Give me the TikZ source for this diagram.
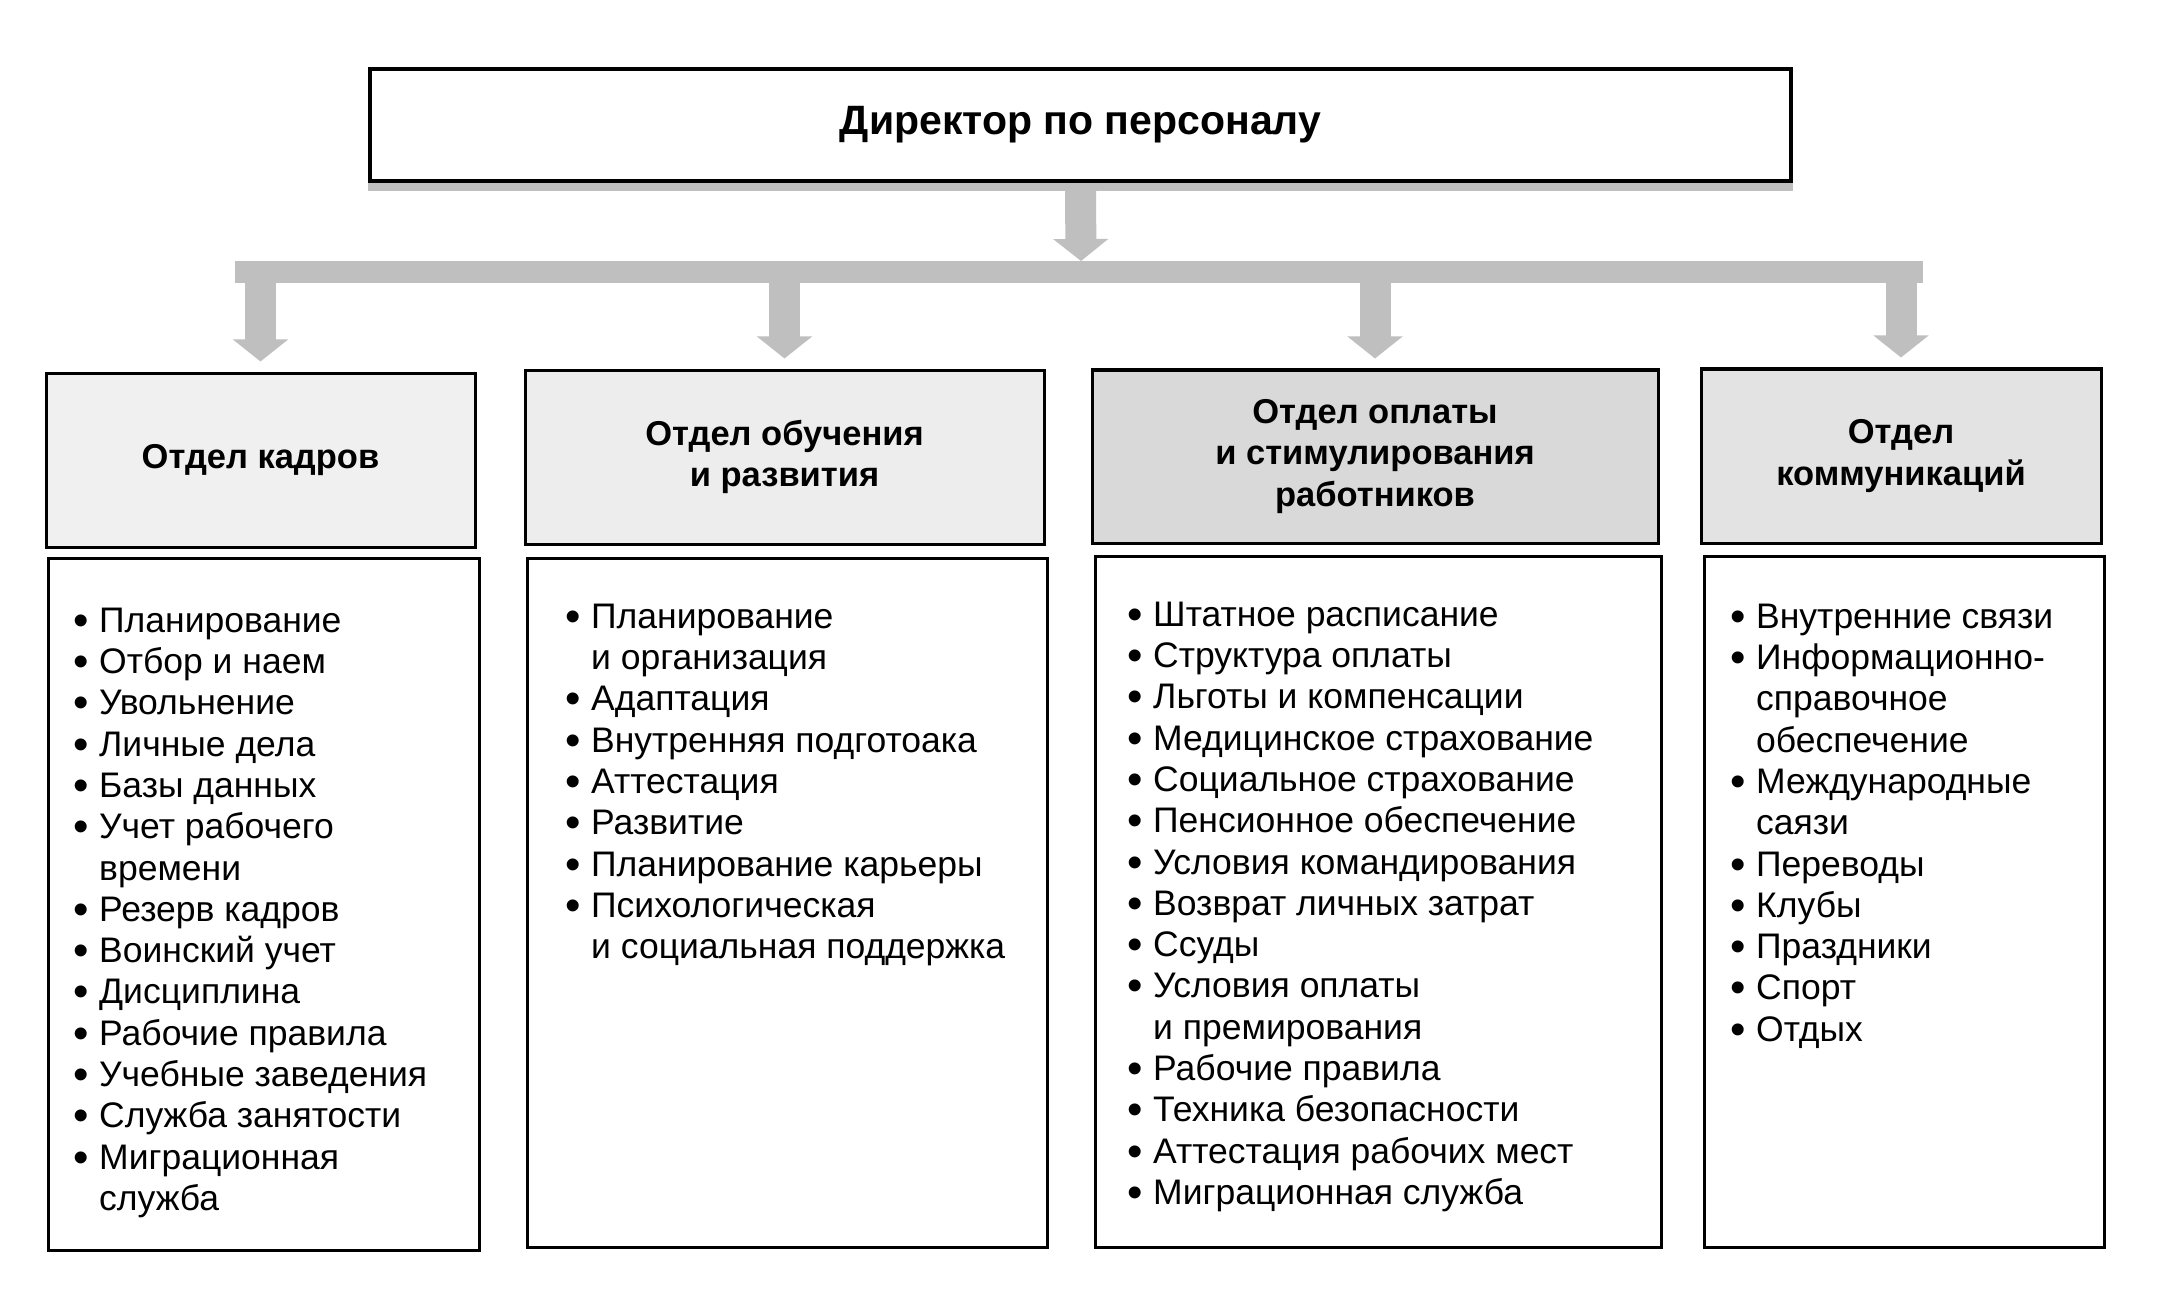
\documentclass[tikz,border=0pt]{standalone}
\usepackage{fontspec}
\setmainfont{Liberation Sans}
\usetikzlibrary{arrows.meta}
\newcommand\bi[1]{\makebox[26pt][l]{\fontsize{44}{0}\selectfont\raisebox{-3pt}{•}}#1}
\newcommand\ct[1]{\hspace*{26pt}#1}
\begin{document}
\begin{tikzpicture}[x=1pt,y=-1pt,
  box/.style={draw=black, line width=3pt, inner sep=0pt},
  head/.style={box, align=center, font=\fontsize{34.5}{41.4}\selectfont\bfseries},
  items/.style={anchor=north west, inner sep=0pt, align=left, font=\fontsize{35.5}{41.3}\selectfont},
  garrow/.style={draw=gray!50, line width=31pt, -{Triangle[width=54pt,length=22pt]}},
  gbar/.style={draw=gray!50, line width=22pt}]
\fill[white] (0,0) rectangle (2165,1313);
\useasboundingbox (0,0) rectangle (2165,1313);
% director
\node[box, line width=3.5pt, minimum width=1421pt, minimum height=112pt,
      font=\fontsize{41}{46}\selectfont\bfseries] (top) at (1080.5,125) {Директор по персоналу};
\fill[gray!50] (top.south west) rectangle ([yshift=-8pt]top.south east);
% bar
\coordinate (bl) at (235,272);
\coordinate (br) at (1923,272);
\coordinate (bj) at (1081,261);
\draw[garrow] ([yshift=-8pt]top.south) -- (bj);
\draw[gbar] (bl) -- (br);
% headers
\node[head, fill=gray!12, minimum width=429pt, minimum height=174pt] (h1) at (260.5,460) {Отдел кадров};
\node[head, fill=gray!14, minimum width=519pt, minimum height=174pt] (h2) at (784.5,457) {Отдел обучения\\и развития};
\node[head, fill=gray!30, minimum width=566pt, minimum height=173pt] (h3) at (1375,456.5) {Отдел оплаты\\и стимулирования\\работников};
\node[head, fill=gray!22, minimum width=400pt, minimum height=174pt] (h4) at (1901,456) {Отдел\\коммуникаций};
\foreach \h in {h1,h2,h3,h4}
  \draw[garrow, shorten >=10pt] (\h.north |- bl) -- (\h.north);
% content boxes
\node[box, minimum width=431pt, minimum height=692pt] (c1) at (263.5,904) {};
\node[box, minimum width=520pt, minimum height=689pt] (c2) at (787,902.5) {};
\node[box, minimum width=566pt, minimum height=691pt] (c3) at (1378,901.5) {};
\node[box, minimum width=400pt, minimum height=691pt] (c4) at (1904,901.5) {};
% items
\node[items] (t1) at (73,602) {\rule{0pt}{30pt}\bi{Планирование}\\
\bi{Отбор и наем}\\
\bi{Увольнение}\\
\bi{Личные дела}\\
\bi{Базы данных}\\
\bi{Учет рабочего}\\
\ct{времени}\\
\bi{Резерв кадров}\\
\bi{Воинский учет}\\
\bi{Дисциплина}\\
\bi{Рабочие правила}\\
\bi{Учебные заведения}\\
\bi{Служба занятости}\\
\bi{Миграционная}\\
\ct{служба}};
\node[items] (t2) at (565,598) {\rule{0pt}{30pt}\bi{Планирование}\\
\ct{и организация}\\
\bi{Адаптация}\\
\bi{Внутренняя подготоака}\\
\bi{Аттестация}\\
\bi{Развитие}\\
\bi{Планирование карьеры}\\
\bi{Психологическая}\\
\ct{и социальная поддержка}};
\node[items] (t3) at (1127,596) {\rule{0pt}{30pt}\bi{Штатное расписание}\\
\bi{Структура оплаты}\\
\bi{Льготы и компенсации}\\
\bi{Медицинское страхование}\\
\bi{Социальное страхование}\\
\bi{Пенсионное обеспечение}\\
\bi{Условия командирования}\\
\bi{Возврат личных затрат}\\
\bi{Ссуды}\\
\bi{Условия оплаты}\\
\ct{и премирования}\\
\bi{Рабочие правила}\\
\bi{Техника безопасности}\\
\bi{Аттестация рабочих мест}\\
\bi{Миграционная служба}};
\node[items] (t4) at (1730,598) {\rule{0pt}{30pt}\bi{Внутренние связи}\\
\bi{Информационно-}\\
\ct{справочное}\\
\ct{обеспечение}\\
\bi{Международные}\\
\ct{саязи}\\
\bi{Переводы}\\
\bi{Клубы}\\
\bi{Праздники}\\
\bi{Спорт}\\
\bi{Отдых}};
\end{tikzpicture}
\end{document}
